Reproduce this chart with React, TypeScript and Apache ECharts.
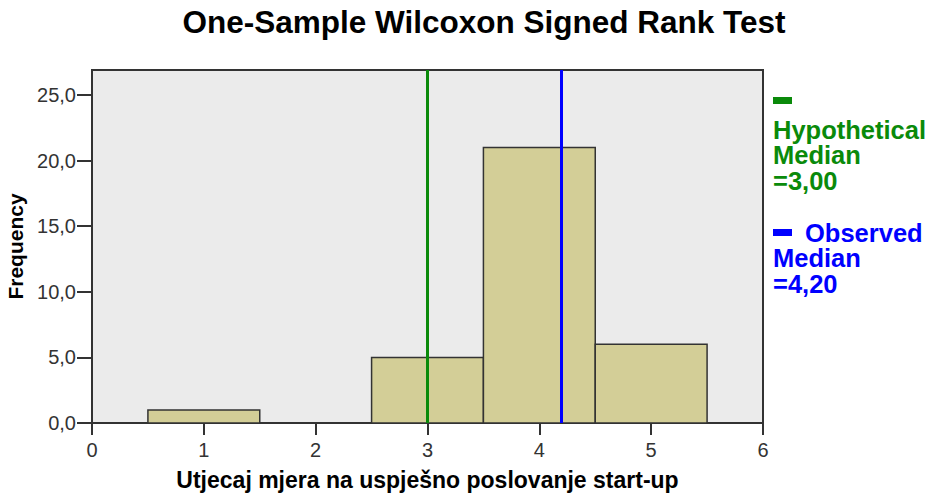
import React, { useEffect, useRef } from "react";
import * as echarts from "echarts";

const binCenters = [1, 2, 3, 4, 5];
const frequencies = [1, 0, 5, 21, 6];
const yTicks = [0, 5, 10, 15, 20, 25];
const xTicks = [0, 1, 2, 3, 4, 5, 6];
const hypotheticalMedian = 3.0;
const observedMedian = 4.2;

const FONT = "'Liberation Sans', Arial, sans-serif";
const GREEN = "#0a8a0a";
const BLUE = "#0000ff";

export default function App() {
  const ref = useRef<HTMLDivElement>(null);
  useEffect(() => {
    if (!ref.current) return;
    const chart = echarts.init(ref.current, undefined, { renderer: "svg" });
    const fmt = (v: number) => v.toFixed(2).replace(".", ",");
    chart.setOption({
      animation: false,
      backgroundColor: "#ffffff",
      title: {
        text: "One-Sample Wilcoxon Signed Rank Test",
        left: 479,
        textAlign: "center",
        top: 1,
        textStyle: { fontFamily: FONT, fontSize: 31.5, fontWeight: "bold", color: "#000" },
      },
      grid: {
        left: 92,
        right: 169,
        top: 70,
        bottom: 70,
        show: true,
        containLabel: false,
        outerBoundsMode: "none",
        backgroundColor: "#ebebeb",
        borderColor: "#333",
        borderWidth: 2,
      },
      xAxis: {
        type: "value",
        min: 0,
        max: 6,
        interval: 1,
        name: "Utjecaj mjera na uspješno poslovanje start-up",
        nameLocation: "middle",
        nameGap: 45,
        nameTextStyle: { fontFamily: FONT, fontSize: 23, fontWeight: "bold", color: "#000" },
        axisLine: { show: true, lineStyle: { color: "#333", width: 2 } },
        axisTick: { show: true, length: 12, lineStyle: { color: "#333", width: 2 }, customValues: xTicks },
        axisLabel: { fontFamily: FONT, fontSize: 20, color: "#333", margin: 17, customValues: xTicks },
        splitLine: { show: false },
      },
      yAxis: {
        type: "value",
        min: 0,
        max: 26.9,
        name: "Frequency",
        nameLocation: "middle",
        nameGap: 60,
        nameTextStyle: { fontFamily: FONT, fontSize: 21, fontWeight: "bold", color: "#000" },
        axisLine: { show: true, lineStyle: { color: "#333", width: 2 } },
        axisTick: { show: true, length: 15, lineStyle: { color: "#333", width: 2 }, customValues: yTicks },
        axisLabel: {
          fontFamily: FONT,
          fontSize: 20,
          color: "#333",
          margin: 16,
          customValues: yTicks,
          formatter: (v: number) => v.toFixed(1).replace(".", ","),
        },
        splitLine: { show: false },
      },
      series: [
        {
          type: "custom",
          data: binCenters.map((c, i) => [c, frequencies[i]]),
          renderItem: (params: any, api: any) => {
            const x = api.value(0);
            const y = api.value(1);
            if (!y) return null;
            const p0 = api.coord([x - 0.5, y]);
            const p1 = api.coord([x + 0.5, 0]);
            return {
              type: "rect",
              shape: { x: p0[0], y: p0[1], width: p1[0] - p0[0], height: p1[1] - p0[1] },
              style: { fill: "#d3ce97", stroke: "#333", lineWidth: 1.5 },
            };
          },
          z: 2,
        },
        {
          type: "line",
          data: [],
          symbol: "none",
          z: 5,
          markLine: {
            symbol: "none",
            silent: true,
            label: { show: false },
            data: [
              { xAxis: hypotheticalMedian, lineStyle: { color: GREEN, width: 3, type: "solid" } },
              { xAxis: observedMedian, lineStyle: { color: BLUE, width: 3, type: "solid" } },
            ],
          },
        },
      ],
      graphic: [
        { type: "rect", shape: { x: 773, y: 97, width: 19, height: 7 }, style: { fill: GREEN } },
        {
          type: "text",
          x: 773,
          y: 117,
          style: {
            text: "Hypothetical\nMedian\n=" + fmt(hypotheticalMedian),
            fill: GREEN,
            font: `bold 25.5px ${FONT}`,
            lineHeight: 25.5,
          },
        },
        { type: "rect", shape: { x: 773, y: 229, width: 19, height: 7 }, style: { fill: BLUE } },
        {
          type: "text",
          x: 805,
          y: 220,
          style: { text: "Observed", fill: BLUE, font: `bold 25.5px ${FONT}`, lineHeight: 25.5 },
        },
        {
          type: "text",
          x: 773,
          y: 245.5,
          style: {
            text: "Median\n=" + fmt(observedMedian),
            fill: BLUE,
            font: `bold 25.5px ${FONT}`,
            lineHeight: 25.5,
          },
        },
      ],
    });
    return () => chart.dispose();
  }, []);
  return <div ref={ref} style={{ width: 932, height: 493, position: "absolute", left: 0, top: 0 }} />;
}
